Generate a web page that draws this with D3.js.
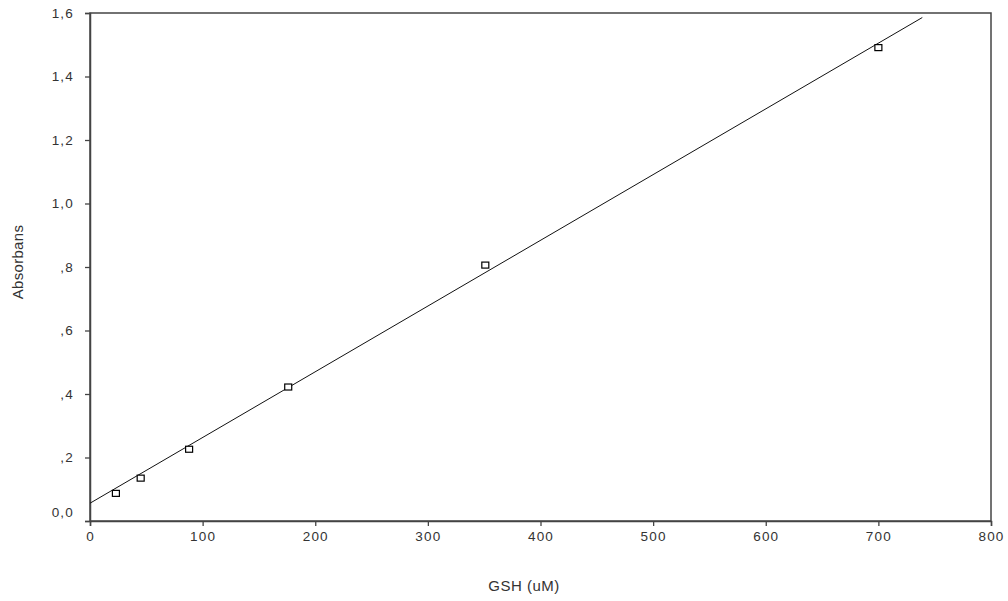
<!DOCTYPE html>
<html>
<head>
<meta charset="utf-8">
<script src="https://cdn.jsdelivr.net/npm/d3@7"></script>
<style>
body{margin:0;background:#fff;}
text{font-family:"Liberation Sans",Arial,sans-serif;}
</style>
</head>
<body>
<svg id="c" width="1008" height="601"></svg>
<script>
const gshValues = [23, 45, 88, 176, 351, 700];
const absValues = [0.087, 0.135, 0.226, 0.422, 0.806, 1.491];
const xTicks = [0, 100, 200, 300, 400, 500, 600, 700, 800];
const yTicks = [0, 0.2, 0.4, 0.6, 0.8, 1.0, 1.2, 1.4, 1.6];
const yTickLabels = ["0,0", ",2", ",4", ",6", ",8", "1,0", "1,2", "1,4", "1,6"];
const fitIntercept = [0.056];
const fitSlope = [0.00207];
const fitRange = [0, 739];

const svg = d3.select("#c");
const m = {l:90, r:1008-991, t:13, b:601-521};
const W = 1008, H = 601;
const x = d3.scaleLinear().domain([0, 800]).range([m.l, W - m.r]);
const y = d3.scaleLinear().domain([0, 1.6]).range([H - m.b, m.t]);

// frame
svg.append("rect").attr("x", x(0)).attr("y", y(1.6))
  .attr("width", x(800) - x(0)).attr("height", y(0) - y(1.6))
  .attr("fill", "none").attr("stroke", "#444").attr("stroke-width", 1.5);

const xAxis = svg.append("g").attr("transform", `translate(0,${y(0)})`)
  .call(d3.axisBottom(x).tickValues(xTicks).tickSize(5).tickPadding(5).tickFormat(d3.format("d")));
const yAxis = svg.append("g").attr("transform", `translate(${x(0)},0)`)
  .call(d3.axisLeft(y).tickValues(yTicks).tickSize(5).tickPadding(11).tickFormat((d,i)=>yTickLabels[i]));
[xAxis, yAxis].forEach(a => {
  a.select(".domain").attr("stroke", "#444").attr("stroke-width", 1.5);
  a.selectAll(".tick line").attr("stroke", "#444").attr("stroke-width", 1.3);
  a.selectAll(".tick text").attr("fill", "#333").attr("font-size", 13.5)
    .style("letter-spacing", "1.2px")
    .style("font-family", "'Liberation Sans',Arial,sans-serif");
});
yAxis.selectAll(".tick text").filter((d)=>d===0).attr("dy", "-0.3em");

// fit line
const fitData = fitRange.map(v => [v, fitIntercept[0] + fitSlope[0] * v]);
svg.append("path").datum(fitData)
  .attr("d", d3.line().x(d => x(d[0])).y(d => y(d[1])))
  .attr("stroke", "#111").attr("stroke-width", 1).attr("fill", "none");

// points
svg.selectAll("rect.pt").data(gshValues).enter().append("rect")
  .attr("class", "pt")
  .attr("x", d => x(d) - 3.5).attr("y", (d,i) => y(absValues[i]) - 3)
  .attr("width", 7).attr("height", 6)
  .attr("fill", "#fff").attr("stroke", "#000").attr("stroke-width", 1.2);

svg.append("text").attr("x", 524).attr("y", 591).attr("text-anchor", "middle")
  .attr("font-size", 15).style("letter-spacing", "0.5px").attr("fill", "#333").text("GSH (uM)");
svg.append("text").attr("transform", `translate(23,262) rotate(-90)`)
  .attr("text-anchor", "middle").attr("font-size", 15).style("letter-spacing", "0.3px").attr("fill", "#333").text("Absorbans");
</script>
</body>
</html>
